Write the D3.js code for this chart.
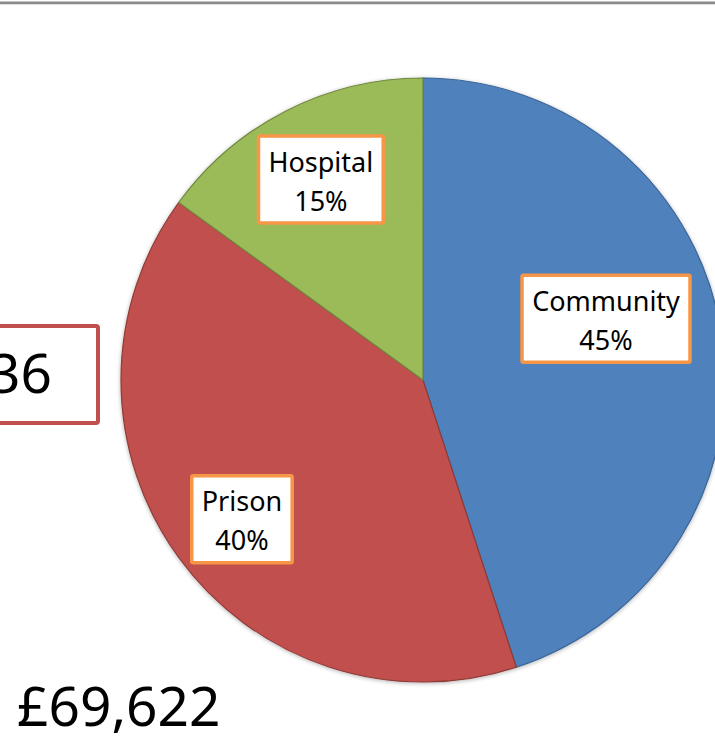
<!DOCTYPE html>
<html>
<head>
<meta charset="utf-8">
<script src="https://cdn.jsdelivr.net/npm/d3@7"></script>
<style>
  body { margin: 0; background: #fff; }
  svg { display: block; }
</style>
</head>
<body>
<div id="container"></div>
<script>
// data
var categories = ["Community", "Prison", "Hospital"];
var shares = [45, 40, 15];
var totalLabel = "£69,622";
var sideLabel = "36";

var width = 715, height = 740;
var cx = 423, cy = 380, radius = 302;

var fills = ["#4f81bd", "#c0504d", "#9bbb59"];
var strokes = ["#3a6595", "#8e3b38", "#71893f"];
// small nudges for label boxes (excel moves them around)
var labelNudge = [[0, -26], [1, 7], [0, 0]];

var svg = d3.select("#container").append("svg")
    .attr("width", width)
    .attr("height", height);

// top rule
svg.append("rect").attr("x", 0).attr("y", 1.5).attr("width", width).attr("height", 2.5).attr("fill", "#8a8a8a");
svg.append("rect").attr("x", 0).attr("y", 4).attr("width", width).attr("height", 1).attr("fill", "#dedede");

var pie = d3.pie().sort(null).value(function(d) { return d; });
var arcs = pie(shares);
var arc = d3.arc().innerRadius(0).outerRadius(radius);
var labelArc = d3.arc().innerRadius(225).outerRadius(225);

var defs = svg.append("defs");
var f = defs.append("filter").attr("id", "shadow").attr("x", "-10%").attr("y", "-10%").attr("width", "120%").attr("height", "120%");
f.append("feGaussianBlur").attr("in", "SourceAlpha").attr("stdDeviation", 2);
f.append("feOffset").attr("dx", 0).attr("dy", 1).attr("result", "b");
f.append("feComponentTransfer").append("feFuncA").attr("type", "linear").attr("slope", 0.3);
var m = f.append("feMerge");
m.append("feMergeNode");
m.append("feMergeNode").attr("in", "SourceGraphic");

var g = svg.append("g").attr("transform", "translate(" + cx + "," + cy + ")");

g.append("g").attr("filter", "url(#shadow)")
  .selectAll("path")
  .data(arcs)
  .enter().append("path")
    .attr("d", arc)
    .attr("fill", function(d, i) { return fills[i]; })
    .attr("stroke", function(d, i) { return strokes[i]; })
    .attr("stroke-width", 1.2);

// data labels
var fontFam = "'Noto Sans', 'Open Sans', sans-serif";
var lbl = g.selectAll("g.lbl")
  .data(arcs)
  .enter().append("g")
    .attr("class", "lbl");

lbl.each(function(d, i) {
  var sel = d3.select(this);
  var c = labelArc.centroid(d);
  var x = c[0] + labelNudge[i][0], y = c[1] + labelNudge[i][1];

  var rect = sel.append("rect");
  var t = sel.append("text")
      .attr("text-anchor", "middle")
      .style("font-family", fontFam)
      .style("font-size", "27px")
      .attr("fill", "#000");
  t.append("tspan").attr("x", 0).attr("y", -8).text(categories[i]);
  t.append("tspan").attr("x", 0).attr("y", 31).text(shares[i] + "%");

  var bb = t.node().getBBox();
  var w = bb.width + 20, h = 87;
  // keep box inside the plot
  var maxX = width - 25 - cx - w / 2;
  if (x > maxX) x = maxX;
  rect.attr("x", -w / 2).attr("y", -h / 2)
      .attr("width", w).attr("height", h)
      .attr("fill", "#fff")
      .attr("stroke", "#f79646")
      .attr("stroke-width", 3.5)
      .attr("rx", 1.5);
  sel.attr("transform", "translate(" + x + "," + y + ")");
});

// side box (cut off on the left)
svg.append("rect")
    .attr("x", -10).attr("y", 326)
    .attr("width", 108).attr("height", 97)
    .attr("fill", "#fff")
    .attr("stroke", "#c0504d")
    .attr("stroke-width", 4)
    .attr("rx", 2);
svg.append("text")
    .attr("x", 52).attr("y", 393)
    .attr("text-anchor", "end")
    .style("font-family", fontFam)
    .style("font-size", "55px")
    .attr("fill", "#000")
    .text(sideLabel);

svg.append("text")
    .attr("x", 17).attr("y", 726)
    .style("font-family", fontFam)
    .style("font-size", "55px")
    .attr("fill", "#000")
    .text(totalLabel);
</script>
</body>
</html>
